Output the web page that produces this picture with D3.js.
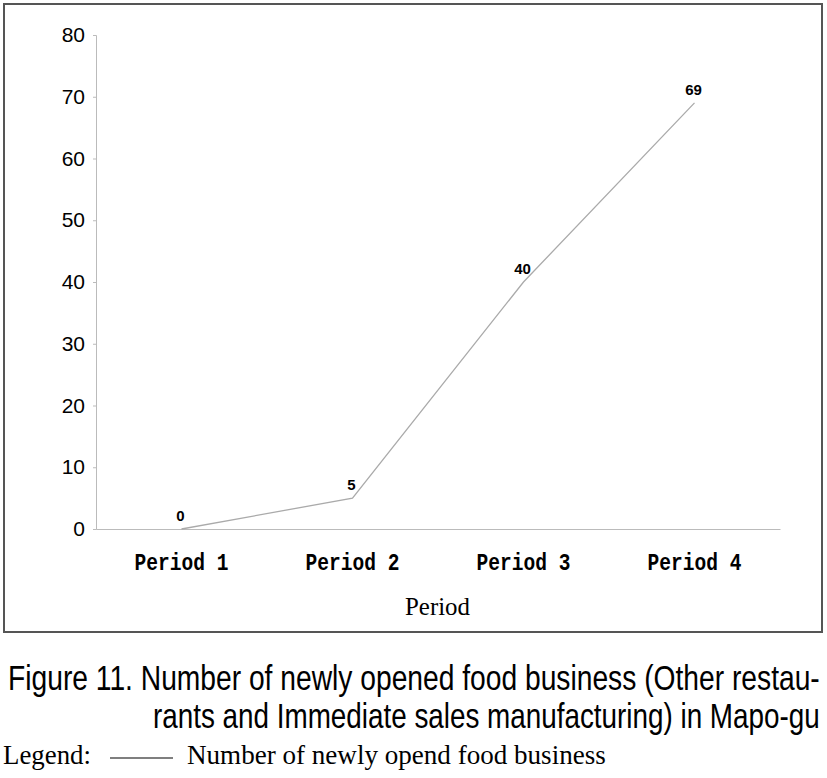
<!DOCTYPE html>
<html>
<head>
<meta charset="utf-8">
<script src="https://cdn.jsdelivr.net/npm/d3@7"></script>
<style>
  body { margin: 0; background: #fff; }
  svg { display: block; }
</style>
</head>
<body>
<svg id="chart"></svg>
<script>
'use strict';

const periods = ['Period 1', 'Period 2', 'Period 3', 'Period 4'];
const openings = [0, 5, 40, 69];
const yTicks = [0, 10, 20, 30, 40, 50, 60, 70, 80];

const W = 827, H = 778;
const svg = d3.select('#chart').attr('width', W).attr('height', H);

// squeeze a text horizontally to a given width (keeps its height)
function squeeze(sel, width) {
    sel.each(function() {
        const w = this.getComputedTextLength();
        const sx = width / w;
        const tx = +this.getAttribute('x') || 0;
        this.setAttribute('transform',
            'translate(' + tx + ',0) scale(' + sx + ',1) translate(' + (-tx) + ',0)');
    });
}

// frame round the plot
svg.append('rect')
    .attr('x', 4).attr('y', 4)
    .attr('width', 818).attr('height', 628)
    .attr('fill', 'none')
    .attr('stroke', '#555')
    .attr('stroke-width', 2);

const x = d3.scaleBand()
    .domain(periods)
    .range([96, 780]);

const y = d3.scaleLinear()
    .domain([0, 80])
    .range([529, 35]);

// y axis
const yAxis = d3.axisLeft(y)
    .tickValues(yTicks)
    .tickSize(3)
    .tickPadding(8)
    .tickFormat(d3.format('d'));

const gy = svg.append('g')
    .attr('transform', 'translate(96,0)')
    .call(yAxis);
gy.select('.domain').attr('stroke', '#bbb');
gy.selectAll('.tick line').attr('stroke', '#bbb');
gy.selectAll('.tick text')
    .attr('fill', '#000')
    .attr('font-family', 'Liberation Sans, Arial, sans-serif')
    .attr('font-size', 21);

// x axis
const xAxis = d3.axisBottom(x)
    .tickSize(0)
    .tickPadding(24);

const gx = svg.append('g')
    .attr('transform', 'translate(0,' + y(0) + ')')
    .call(xAxis);
gx.select('.domain').attr('stroke', '#bbb');
gx.selectAll('.tick text')
    .attr('fill', '#000')
    .attr('font-family', 'Liberation Mono, Courier New, monospace')
    .attr('font-weight', 'bold')
    .attr('font-size', 24)
    .call(squeeze, 94);

// axis title
svg.append('text')
    .attr('x', 405).attr('y', 615)
    .attr('font-family', 'Liberation Serif, Times New Roman, serif')
    .attr('font-size', 25)
    .text('Period')
    .call(squeeze, 65);

// the line
const line = d3.line()
    .x((d, i) => x(periods[i]) + x.bandwidth() / 2)
    .y(d => y(d));

svg.append('path')
    .datum(openings)
    .attr('fill', 'none')
    .attr('stroke', '#aaa')
    .attr('stroke-width', 1.3)
    .attr('d', line);

// value labels
svg.append('g').selectAll('text')
    .data(openings)
    .join('text')
    .attr('x', (d, i) => x(periods[i]) + x.bandwidth() / 2 - 1)
    .attr('y', d => y(d) - 8)
    .attr('text-anchor', 'middle')
    .attr('font-family', 'Liberation Sans, Arial, sans-serif')
    .attr('font-weight', 'bold')
    .attr('font-size', 15)
    .text(d => d);

// caption
const cap = svg.append('g')
    .attr('font-family', 'Liberation Sans, Arial, sans-serif')
    .attr('font-size', 35);
cap.append('text')
    .attr('x', 8).attr('y', 690)
    .text('Figure 11. Number of newly opened food business (Other restau-')
    .call(squeeze, 812);
cap.append('text')
    .attr('x', 153).attr('y', 728)
    .text('rants and Immediate sales manufacturing) in Mapo-gu')
    .call(squeeze, 667);

// legend
const leg = svg.append('g')
    .attr('font-family', 'Liberation Serif, Times New Roman, serif')
    .attr('font-size', 28);
leg.append('text')
    .attr('x', 3).attr('y', 764)
    .text('Legend:')
    .call(squeeze, 88);
leg.append('line')
    .attr('x1', 110).attr('x2', 173)
    .attr('y1', 758).attr('y2', 758)
    .attr('stroke', '#000')
    .attr('stroke-width', 1.2);
leg.append('text')
    .attr('x', 187).attr('y', 764)
    .text('Number of newly opend food business')
    .call(squeeze, 419);
</script>
</body>
</html>
